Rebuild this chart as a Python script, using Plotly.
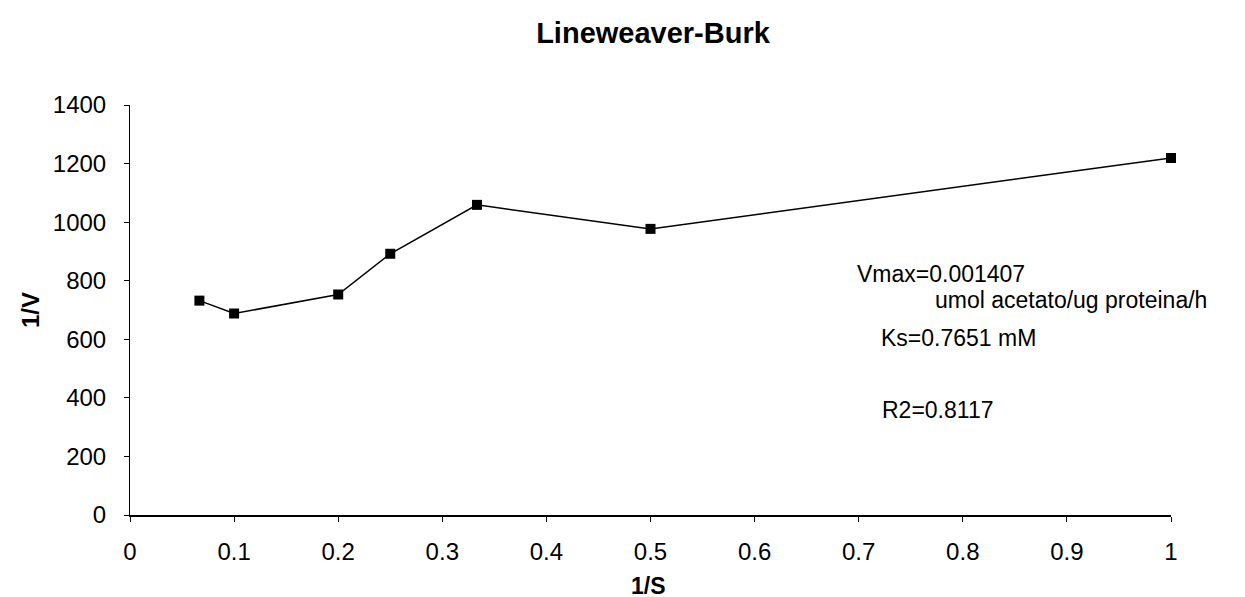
import plotly.graph_objects as go

# Data
inv_s = [1/15, 0.1, 0.2, 0.25, 1/3, 0.5, 1.0]
inv_v = [732, 688, 753, 892, 1059, 977, 1219]

x_ticks = [0, 0.1, 0.2, 0.3, 0.4, 0.5, 0.6, 0.7, 0.8, 0.9, 1]
x_tick_labels = ["0", "0.1", "0.2", "0.3", "0.4", "0.5", "0.6", "0.7", "0.8", "0.9", "1"]
y_ticks = [0, 200, 400, 600, 800, 1000, 1200, 1400]

notes = [
    ("Vmax=0.001407", 0.697, 822),
    ("umol acetato/ug proteina/h", 0.772, 733),
    ("Ks=0.7651 mM", 0.7205, 604),
    ("R2=0.8117", 0.721, 358),
]

FONT = "Liberation Sans, Arial, sans-serif"

fig = go.Figure()
fig.add_trace(go.Scatter(
    x=inv_s, y=inv_v, mode="lines+markers",
    line=dict(color="black", width=1.5),
    marker=dict(symbol="square", size=10, color="black"),
    showlegend=False, cliponaxis=False,
))

for text, x, y in notes:
    fig.add_annotation(x=x, y=y, text=text, showarrow=False,
                       xanchor="left", yanchor="middle", borderpad=0,
                       font=dict(family=FONT, size=23, color="black"))

# axis titles placed in paper coordinates
fig.add_annotation(xref="paper", yref="paper", x=-100/1041, y=0.5,
                   text="<b>1/V</b>", textangle=-90, showarrow=False,
                   xanchor="center", yanchor="middle",
                   font=dict(family=FONT, size=24, color="black"))
fig.add_annotation(xref="paper", yref="paper", x=518/1041, y=-71/410,
                   text="<b>1/S</b>", showarrow=False, borderpad=0,
                   xanchor="center", yanchor="middle",
                   font=dict(family=FONT, size=23, color="black"))

fig.update_layout(
    width=1245, height=597,
    margin=dict(l=122, r=82, t=97, b=90),
    paper_bgcolor="white", plot_bgcolor="white",
    title=dict(text="<b>Lineweaver-Burk</b>", x=645/1245, xanchor="center",
               y=1 - 25/597, yanchor="middle",
               font=dict(family=FONT, size=29, color="black")),
    font=dict(family=FONT, size=24, color="black"),
    xaxis=dict(range=[0, 1], tickvals=x_ticks, ticktext=x_tick_labels,
               showgrid=False, zeroline=False, showline=True,
               linecolor="black", linewidth=1.5, automargin=False,
               ticks="outside", ticklen=5, tickcolor="black",
               ticklabelstandoff=9),
    yaxis=dict(range=[0, 1400], tickvals=y_ticks,
               showgrid=False, zeroline=False, showline=True,
               linecolor="black", linewidth=1, automargin=False,
               ticks="outside", ticklen=5, tickcolor="black",
               ticklabelstandoff=13),
)

fig.write_html("out.html")
